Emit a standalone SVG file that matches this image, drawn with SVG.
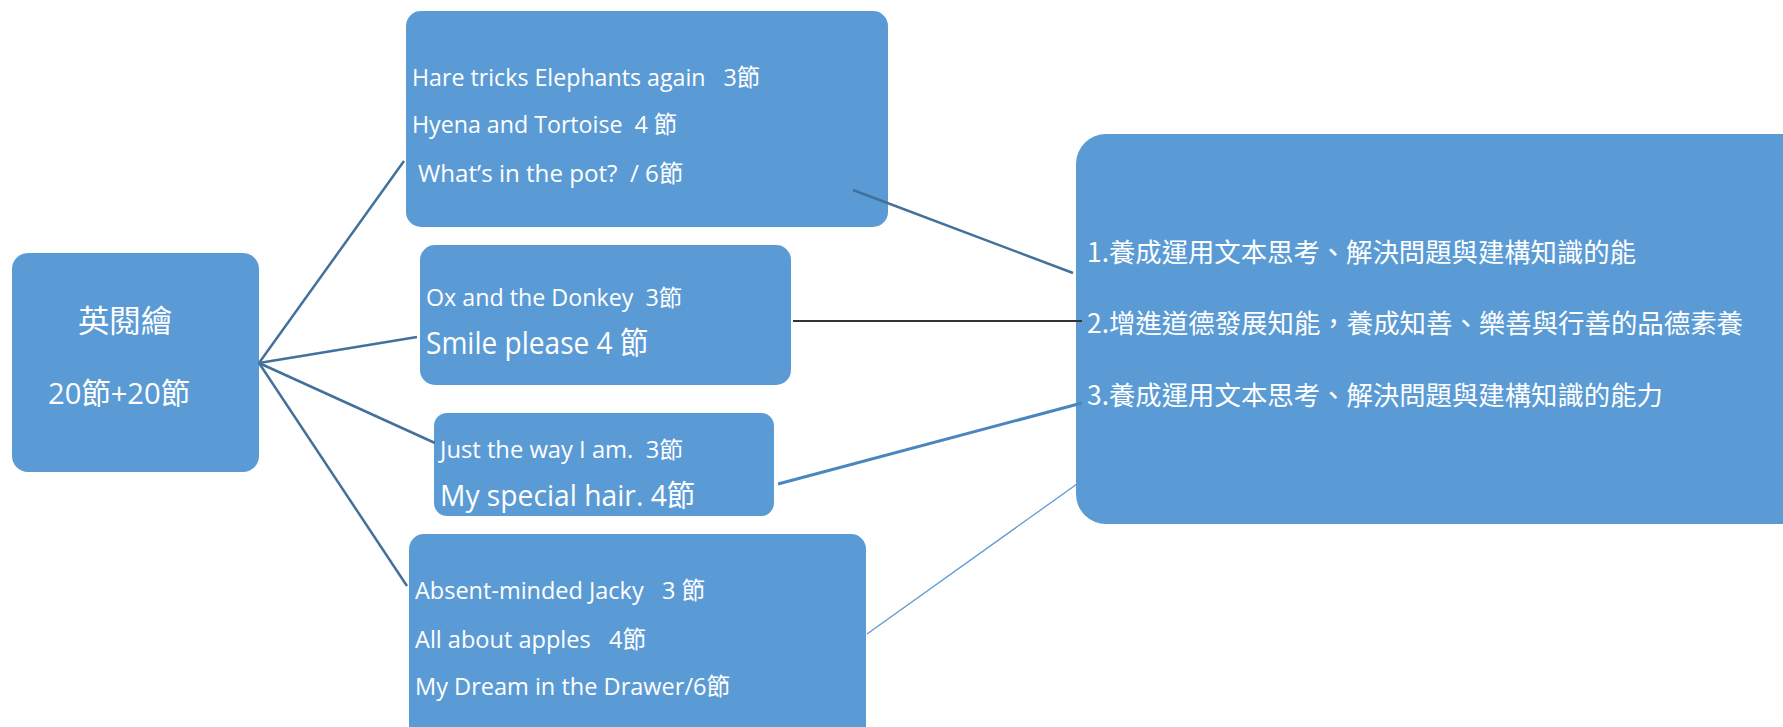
<svg xmlns="http://www.w3.org/2000/svg" width="1783" height="727" viewBox="0 0 1783 727">
<style>
.box{fill:#5B9BD5;}
.t{fill:#ffffff;font-family:"Open Sans","Noto Sans CJK TC",sans-serif;white-space:pre;}
.c{fill:#ffffff;font-family:"Noto Sans CJK TC","Noto Sans CJK SC",sans-serif;white-space:pre;}
.ln{stroke:#41719C;stroke-width:2.5;fill:none;}
</style>
<rect x="0" y="0" width="1783" height="727" fill="#ffffff"/>
<g id="node-root">
<rect class="box" x="12" y="253" width="247" height="219" rx="16"/>
<text class="c" x="78" y="332" font-size="31" textLength="94" lengthAdjust="spacingAndGlyphs">英閱繪</text>
<text class="t" x="48" y="404" font-size="30" textLength="142" lengthAdjust="spacingAndGlyphs">20節+20節</text>
</g>
<g id="node-top">
<rect class="box" x="406" y="11" width="482" height="216" rx="15"/>
<text class="t" x="412" y="86" font-size="24" textLength="348" lengthAdjust="spacingAndGlyphs">Hare tricks Elephants again   3節</text>
<text class="t" x="412" y="133" font-size="24" textLength="265" lengthAdjust="spacingAndGlyphs">Hyena and Tortoise  4 節</text>
<text class="t" x="418" y="182" font-size="24" textLength="265" lengthAdjust="spacingAndGlyphs">What’s in the pot?  / 6節</text>
</g>
<g id="node-2">
<rect class="box" x="420" y="245" width="371" height="140" rx="15"/>
<text class="t" x="426" y="306" font-size="23" textLength="256" lengthAdjust="spacingAndGlyphs">Ox and the Donkey  3節</text>
<text class="t" x="426" y="354" font-size="31" textLength="222" lengthAdjust="spacingAndGlyphs">Smile please 4 節</text>
</g>
<g id="node-3">
<rect class="box" x="434" y="413" width="340" height="103" rx="13"/>
<text class="t" x="440" y="458" font-size="23" textLength="243" lengthAdjust="spacingAndGlyphs">Just the way I am.  3節</text>
<text class="t" x="440" y="506" font-size="30" textLength="255" lengthAdjust="spacingAndGlyphs">My special hair. 4節</text>
</g>
<g id="node-4">
<rect class="box" x="409" y="534" width="457" height="220" rx="15"/>
<text class="t" x="415" y="599" font-size="24" textLength="290" lengthAdjust="spacingAndGlyphs">Absent-minded Jacky   3 節</text>
<text class="t" x="415" y="648" font-size="24" textLength="231" lengthAdjust="spacingAndGlyphs">All about apples   4節</text>
<text class="t" x="415" y="695" font-size="24" textLength="315" lengthAdjust="spacingAndGlyphs">My Dream in the Drawer/6節</text>
</g>
<g id="node-goals">
<rect class="box" x="1076" y="134" width="800" height="390" rx="30"/>
<text class="c" x="1087" y="262" font-size="26.5" textLength="549" lengthAdjust="spacingAndGlyphs">1.養成運用文本思考、解決問題與建構知識的能</text>
<text class="c" x="1087" y="333" font-size="26.5" textLength="656" lengthAdjust="spacingAndGlyphs">2.增進道德發展知能，養成知善、樂善與行善的品德素養</text>
<text class="c" x="1087" y="405" font-size="26.5" textLength="576" lengthAdjust="spacingAndGlyphs">3.養成運用文本思考、解決問題與建構知識的能力</text>
</g>
<g id="connectors">
<line class="ln" x1="259" y1="363" x2="404" y2="161"/>
<line class="ln" x1="259" y1="363" x2="417" y2="337"/>
<line class="ln" x1="259" y1="363" x2="435" y2="443"/>
<line class="ln" x1="259" y1="363" x2="407" y2="586"/>
<line class="ln" x1="853" y1="190" x2="1073" y2="273"/>
<line x1="793" y1="321" x2="1082" y2="321" stroke="#333333" stroke-width="1.8"/>
<line x1="778" y1="484" x2="1082" y2="403" stroke="#4A86BE" stroke-width="3"/>
<line x1="867" y1="634" x2="1077" y2="484" stroke="#5B9BD5" stroke-width="1.3"/>
</g>
</svg>
